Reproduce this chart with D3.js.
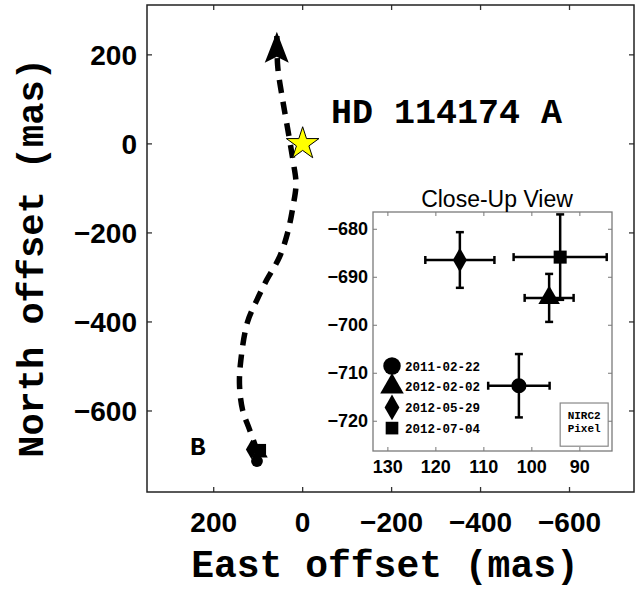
<!DOCTYPE html>
<html>
<head>
<meta charset="utf-8">
<script src="https://cdn.jsdelivr.net/npm/d3@7"></script>
<style>
body { margin: 0; background: #fff; }
svg { display: block; }
</style>
</head>
<body>
<div id="chart"></div>
<script>
(function(){

var width = 639,
	height = 590;

// orbit of B around A (mas)
var orbitEast  = [101, 119, 135, 142, 139, 124, 103, 81, 52, 34, 22, 15, 22, 36, 45, 56, 58];
var orbitNorth = [-693, -643, -598, -542, -486, -400, -351, -306, -254, -200, -142, -90, -36, 47, 99, 173, 252];

// astrometry epochs
var dates     = ["2011-02-22", "2012-02-02", "2012-05-29", "2012-07-04"];
var east      = [102.7, 96.4, 115.0, 94.1];
var north     = [-712.6, -694.3, -686.4, -685.8];
var eastErr   = [6.4, 5.1, 7.2, 9.7];
var northErr  = [6.6, 5.0, 5.8, 8.9];
var shapes    = ["circle", "triangle", "diamond", "square"];

// NIRC2 pixel footprint in close-up coordinates
var pixelEast  = [94.1, 84.1];
var pixelNorth = [-716.2, -725.2];

var mainTicksX = [200, 0, -200, -400, -600],
	mainTicksY = [200, 0, -200, -400, -600],
	zoomTicksX = [130, 120, 110, 100, 90],
	zoomTicksY = [-680, -690, -700, -710, -720];

var svg = d3.select("#chart").append("svg")
	.attr("width", width)
	.attr("height", height);

svg.append("rect").attr("width", width).attr("height", height).attr("fill", "#fff");

var mono = "'Liberation Mono','Courier New',monospace",
	sans = "'Liberation Sans',Arial,Helvetica,sans-serif";

// main axes
var X = d3.scaleLinear().domain([350, -745]).range([147, 634]);
var Y = d3.scaleLinear().domain([312, -782]).range([5, 492]);

var tickLen = 5;

var main = svg.append("g");

function inwardTicks(g, xs, ys, xScale, yScale, len, col, w){
	var x0 = xScale.range()[0], x1 = xScale.range()[1],
		y0 = yScale.range()[0], y1 = yScale.range()[1];
	xs.forEach(function(v){
		var px = xScale(v);
		g.append("line").attr("x1", px).attr("x2", px).attr("y1", y1).attr("y2", y1 - len).attr("stroke", col).attr("stroke-width", w);
		g.append("line").attr("x1", px).attr("x2", px).attr("y1", y0).attr("y2", y0 + len).attr("stroke", col).attr("stroke-width", w);
	});
	ys.forEach(function(v){
		var py = yScale(v);
		g.append("line").attr("y1", py).attr("y2", py).attr("x1", x0).attr("x2", x0 + len).attr("stroke", col).attr("stroke-width", w);
		g.append("line").attr("y1", py).attr("y2", py).attr("x1", x1).attr("x2", x1 - len).attr("stroke", col).attr("stroke-width", w);
	});
}

inwardTicks(main, mainTicksX, mainTicksY, X, Y, tickLen, "#333", 1.3);

main.append("rect")
	.attr("x", 147).attr("y", 5).attr("width", 634 - 147).attr("height", 492 - 5)
	.attr("fill", "none").attr("stroke", "#222").attr("stroke-width", 1.5);

var fmt = d3.format("d");

main.selectAll(".xl").data(mainTicksX).enter().append("text")
	.attr("x", function(d){ return X(d); })
	.attr("y", 532)
	.attr("text-anchor", "middle")
	.style("font-family", sans).style("font-weight", "bold").style("font-size", "28px")
	.text(function(d){ return fmt(d); });

main.selectAll(".yl").data(mainTicksY).enter().append("text")
	.attr("x", 137)
	.attr("y", function(d){ return Y(d) + 10; })
	.attr("text-anchor", "end")
	.style("font-family", sans).style("font-weight", "bold").style("font-size", "28px")
	.text(function(d){ return fmt(d); });

svg.append("text")
	.attr("x", 385).attr("y", 577)
	.attr("text-anchor", "middle")
	.style("font-family", mono).style("font-weight", "bold").style("font-size", "38px")
	.text("East offset (mas)");

svg.append("text")
	.attr("transform", "translate(43,258) rotate(-90)")
	.attr("text-anchor", "middle")
	.style("font-family", mono).style("font-weight", "bold").style("font-size", "37px")
	.text("North offset (mas)");

// arrow head
svg.append("defs").append("marker")
	.attr("id", "head")
	.attr("markerUnits", "userSpaceOnUse")
	.attr("viewBox", "-32 -13 34 26")
	.attr("refX", 0).attr("refY", 0)
	.attr("markerWidth", 34).attr("markerHeight", 26)
	.attr("orient", "auto")
	.append("path")
	.attr("d", "M0,0 L-31,-12 L-25,0 L-31,12 Z")
	.attr("fill", "#000");

var orbit = orbitEast.map(function(e, i){ return [X(e), Y(orbitNorth[i])]; });

main.append("path")
	.attr("d", d3.line().curve(d3.curveCatmullRom)(orbit))
	.attr("fill", "none")
	.attr("stroke", "#000")
	.attr("stroke-width", 5.5)
	.attr("stroke-dasharray", "13,9")
	.attr("marker-end", "url(#head)");

// primary star
main.append("path")
	.attr("transform", "translate(" + X(0) + "," + Y(0) + ")")
	.attr("d", d3.symbol().type(d3.symbolStar).size(330)())
	.attr("fill", "#ffff00")
	.attr("stroke", "#000")
	.attr("stroke-width", 1);

main.append("text")
	.attr("x", 331).attr("y", 123)
	.style("font-family", mono).style("font-weight", "bold").style("font-size", "35px")
	.text("HD 114174 A");

main.append("text")
	.attr("x", 190).attr("y", 455)
	.style("font-family", mono).style("font-weight", "bold").style("font-size", "26px")
	.text("B");

var symType = {
	circle: d3.symbolCircle,
	triangle: d3.symbolTriangle,
	diamond: d3.symbolDiamond,
	square: d3.symbolSquare
};

main.selectAll(".pt").data(dates).enter().append("path")
	.attr("transform", function(d, i){ return "translate(" + X(east[i]) + "," + Y(north[i]) + ")"; })
	.attr("d", function(d, i){ return d3.symbol().type(symType[shapes[i]]).size(110)(); })
	.attr("fill", "#000");

// close-up inset
var XI = d3.scaleLinear().domain([133.1, 83.3]).range([373, 612]);
var YI = d3.scaleLinear().domain([-676.4, -726.2]).range([212, 451]);

var inset = svg.append("g");

inset.append("rect")
	.attr("x", 373).attr("y", 212).attr("width", 612 - 373).attr("height", 451 - 212)
	.attr("fill", "#fff");

inwardTicks(inset, zoomTicksX, zoomTicksY, XI, YI, 4, "#777", 1);

inset.append("rect")
	.attr("x", 373).attr("y", 212).attr("width", 612 - 373).attr("height", 451 - 212)
	.attr("fill", "none").attr("stroke", "#7a7a7a").attr("stroke-width", 1.3);

inset.append("text")
	.attr("x", 497).attr("y", 207)
	.attr("text-anchor", "middle")
	.style("font-family", sans).style("font-size", "23px")
	.text("Close-Up View");

inset.selectAll(".xl").data(zoomTicksX).enter().append("text")
	.attr("x", function(d){ return XI(d); })
	.attr("y", 473)
	.attr("text-anchor", "middle")
	.style("font-family", sans).style("font-weight", "bold").style("font-size", "18px")
	.text(function(d){ return fmt(d); });

inset.selectAll(".yl").data(zoomTicksY).enter().append("text")
	.attr("x", 368)
	.attr("y", function(d){ return YI(d) + 6; })
	.attr("text-anchor", "end")
	.style("font-family", sans).style("font-weight", "bold").style("font-size", "18px")
	.text(function(d){ return fmt(d); });

// error bars
var cap = 4;
var eb = inset.selectAll(".eb").data(dates).enter().append("g")
	.attr("stroke", "#000").attr("stroke-width", 2.5);

eb.append("line")
	.attr("x1", function(d, i){ return XI(east[i] + eastErr[i]); })
	.attr("x2", function(d, i){ return XI(east[i] - eastErr[i]); })
	.attr("y1", function(d, i){ return YI(north[i]); })
	.attr("y2", function(d, i){ return YI(north[i]); });
eb.append("line")
	.attr("x1", function(d, i){ return XI(east[i]); })
	.attr("x2", function(d, i){ return XI(east[i]); })
	.attr("y1", function(d, i){ return YI(north[i] + northErr[i]); })
	.attr("y2", function(d, i){ return YI(north[i] - northErr[i]); });
[1, -1].forEach(function(s){
	eb.append("line")
		.attr("x1", function(d, i){ return XI(east[i] + s * eastErr[i]); })
		.attr("x2", function(d, i){ return XI(east[i] + s * eastErr[i]); })
		.attr("y1", function(d, i){ return YI(north[i]) - cap; })
		.attr("y2", function(d, i){ return YI(north[i]) + cap; });
	eb.append("line")
		.attr("x1", function(d, i){ return XI(east[i]) - cap; })
		.attr("x2", function(d, i){ return XI(east[i]) + cap; })
		.attr("y1", function(d, i){ return YI(north[i] + s * northErr[i]); })
		.attr("y2", function(d, i){ return YI(north[i] + s * northErr[i]); });
});

var insetSize = { circle: 180, triangle: 200, diamond: 170, square: 170 };

inset.selectAll(".ip").data(dates).enter().append("path")
	.attr("transform", function(d, i){ return "translate(" + XI(east[i]) + "," + YI(north[i]) + ")"; })
	.attr("d", function(d, i){ return d3.symbol().type(symType[shapes[i]]).size(insetSize[shapes[i]])(); })
	.attr("fill", "#000");

// legend
var legendSize = { circle: 240, triangle: 240, diamond: 190, square: 160 };
var lg = inset.selectAll(".lg").data(dates).enter().append("g")
	.attr("transform", function(d, i){ return "translate(392," + (366 + i * 20.7) + ")"; });

lg.append("path")
	.attr("d", function(d, i){ return d3.symbol().type(symType[shapes[i]]).size(legendSize[shapes[i]])(); })
	.attr("fill", "#000");

lg.append("text")
	.attr("x", 13).attr("y", 4.5)
	.style("font-family", mono).style("font-weight", "bold").style("font-size", "12.5px")
	.text(function(d){ return d; });

// NIRC2 pixel box
inset.append("rect")
	.attr("x", XI(pixelEast[0])).attr("y", YI(pixelNorth[0]))
	.attr("width", XI(pixelEast[1]) - XI(pixelEast[0]))
	.attr("height", YI(pixelNorth[1]) - YI(pixelNorth[0]))
	.attr("fill", "none").attr("stroke", "#888").attr("stroke-width", 1.2);

inset.selectAll(".px").data(["NIRC2", "Pixel"]).enter().append("text")
	.attr("x", (XI(pixelEast[0]) + XI(pixelEast[1])) / 2)
	.attr("y", function(d, i){ return 419 + i * 13; })
	.attr("text-anchor", "middle")
	.style("font-family", mono).style("font-weight", "bold").style("font-size", "11px")
	.text(function(d){ return d; });

})()
</script>
</body>
</html>
